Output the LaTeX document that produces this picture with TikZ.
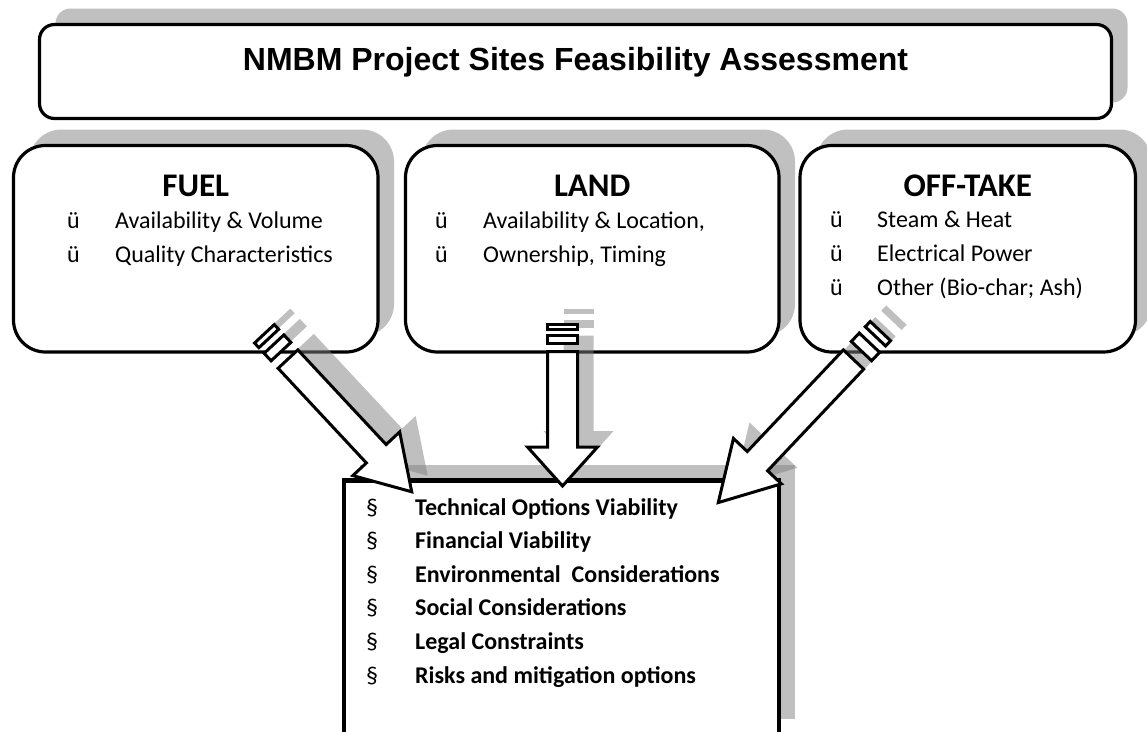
\documentclass[tikz,border=0pt]{standalone}
\usepackage{fontspec}
\setmainfont{Carlito}
\newfontfamily\titlefont{Liberation Sans}
\usetikzlibrary{shadows}
\definecolor{shadowgray}{RGB}{192,192,192}

% striped block arrow: #1,#2 tail centre, #3 rotation, #4 length,
% #5 head base, #6 shaft half width, #7 head half width, #8 tail scale
\newcommand\stripedarrow[8]{%
  \begin{scope}[shift={(#1+16,#2-16)},rotate=#3]
    \fill[arrowshadow] (27*#8,-#6) -- (#5,-#6) -- (#5,-#7) -- (#4,0)
      -- (#5,#7) -- (#5,#6) -- (27*#8,#6) -- cycle;
    \fill[arrowshadow] (0,-#6) rectangle (5*#8,#6);
    \fill[arrowshadow] (11*#8,-#6) rectangle (19*#8,#6);
  \end{scope}
  \begin{scope}[shift={(#1,#2)},rotate=#3]
    \draw[arrowbody] (27*#8,-#6) -- (#5,-#6) -- (#5,-#7) -- (#4,0)
      -- (#5,#7) -- (#5,#6) -- (27*#8,#6) -- cycle;
    \draw[arrowbody] (0,-#6) rectangle (5*#8,#6);
    \draw[arrowbody] (11*#8,-#6) rectangle (19*#8,#6);
  \end{scope}}

\begin{document}
\begin{tikzpicture}[x=1pt,y=-1pt,
  shadowed/.style={drop shadow={shadow xshift=16pt,shadow yshift=16pt,
      fill=shadowgray,opacity=1}},
  panel/.style={draw=black,fill=white,line width=3.2pt,inner sep=0pt,
      rounded corners=32pt,shadowed},
  titlebox/.style={draw=black,fill=white,line width=3.2pt,inner sep=0pt,
      rounded corners=15pt,shadowed},
  resultbox/.style={draw=black,fill=white,line width=4.5pt,inner sep=0pt,
      shadowed},
  arrowshadow/.style={fill=black!50,fill opacity=0.5},
  arrowbody/.style={draw=black,fill=white,line width=3pt,line join=miter},
  titletext/.style={inner sep=0pt,anchor=base,
      font=\titlefont\bfseries\fontsize{32}{38}\selectfont},
  head/.style={inner sep=0pt,anchor=base,
      font=\bfseries\fontsize{33}{40}\selectfont},
  tick/.style={inner sep=0pt,anchor=base west,font=\fontsize{24}{29}\selectfont},
  item/.style={inner sep=0pt,anchor=base west,font=\fontsize{24}{29}\selectfont},
  bolditem/.style={inner sep=0pt,anchor=base west,
      font=\bfseries\fontsize{24}{29}\selectfont}]

\useasboundingbox (0,0) rectangle (1147,731);

% heading panel
\node[titlebox,minimum width=1072pt,minimum height=94pt] (top) at (575.5,71.5) {};
\node[titletext] (toptext) at (575.5,70) {NMBM Project Sites Feasibility Assessment};

% three input panels
\node[panel,minimum width=364.5pt,minimum height=206.5pt] (fuel) at (195.75,248.75) {};
\node[panel,minimum width=373.5pt,minimum height=206.5pt] (land) at (592.25,248.75) {};
\node[panel,minimum width=335.5pt,minimum height=206.5pt] (off) at (967.75,248.75) {};

\node[head] (fuelH) at (195.75,196) {FUEL};
\node[tick] (fuelT1) at (67,228) {ü};
\node[item] (fuelI1) at (115,228) {Availability \& Volume};
\node[tick] (fuelT2) at (67,262) {ü};
\node[item] (fuelI2) at (115,262) {Quality Characteristics};

\node[head] (landH) at (592.25,196) {LAND};
\node[tick] (landT1) at (435,228) {ü};
\node[item] (landI1) at (483,228) {Availability \& Location,};
\node[tick] (landT2) at (435,262) {ü};
\node[item] (landI2) at (483,262) {Ownership, Timing};

\node[head] (offH) at (967.75,196) {OFF-TAKE};
\node[tick] (offT1) at (830,227) {ü};
\node[item] (offI1) at (877,227) {Steam \& Heat};
\node[tick] (offT2) at (830,261) {ü};
\node[item] (offI2) at (877,261) {Electrical Power};
\node[tick] (offT3) at (830,295) {ü};
\node[item] (offI3) at (877,295) {Other (Bio-char; Ash)};

% assessment box
\node[resultbox,minimum width=435pt,minimum height=254.5pt] (res) at (561.5,607.75) {};
\node[tick] (s1) at (366,515) {§};
\node[bolditem] (r1) at (415,515) {Technical Options Viability};
\node[tick] (s2) at (366,548.6) {§};
\node[bolditem] (r2) at (415,548.6) {Financial Viability};
\node[tick] (s3) at (366,582.2) {§};
\node[bolditem] (r3) at (415,582.2) {Environmental~ Considerations};
\node[tick] (s4) at (366,615.8) {§};
\node[bolditem] (r4) at (415,615.8) {Social Considerations};
\node[tick] (s5) at (366,649.4) {§};
\node[bolditem] (r5) at (415,649.4) {Legal Constraints};
\node[tick] (s6) at (366,683) {§};
\node[bolditem] (r6) at (415,683) {Risks and mitigation options};

% block arrows into the assessment box
\stripedarrow{264.4}{333.8}{-47}{216}{164}{13.5}{32}{1.28}
\stripedarrow{562.5}{324.5}{-90}{161.5}{122.5}{15}{35}{1}
\stripedarrow{880.4}{331.1}{-133.4}{236}{179}{14}{33}{1.45}

\end{tikzpicture}
\end{document}
